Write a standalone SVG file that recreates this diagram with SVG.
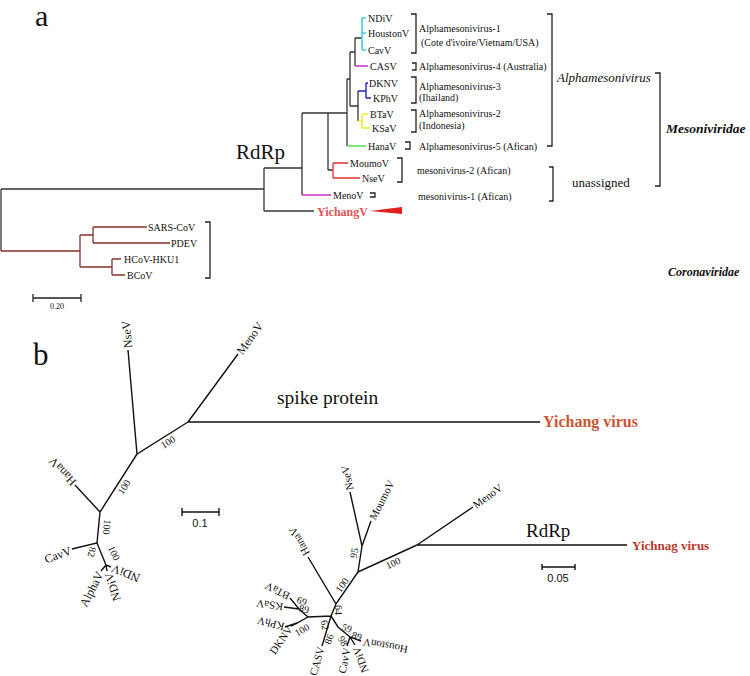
<svg xmlns="http://www.w3.org/2000/svg" width="750" height="676" viewBox="0 0 750 676">
<style>
text{font-family:"Liberation Serif","Times New Roman",serif;fill:#111}
.tl{font-size:10px}
.br{fill:none;stroke:#222;stroke-width:1.3}
.e{fill:none;stroke:#333;stroke-width:1.3}
.b{fill:none;stroke:#111;stroke-width:1.4}
.bs{font-size:10px}
.lt{font-size:12px}
.rt{font-size:11px}
.sc{font-family:"Liberation Sans",Arial,sans-serif;font-size:11px}
</style>
<rect width="750" height="676" fill="#fff"/>

<text x="35" y="26" font-size="30">a</text>
<text x="33" y="365" font-size="31">b</text>
<text x="236" y="159" font-size="21">RdRp</text>
<text x="277" y="404" font-size="19.5">spike protein</text>
<text x="526" y="537" font-size="19">RdRp</text>

<g id="connectors">
<path class="e" d="M1 189H264M1 189V251M264 168V211M264 168H302M302 113V195M302 113H347M328 113V170M328 170H333M347 79V146M347 79H350M350 52V106M350 52H355M355 38V66M355 38H362M350 106H358M358 91V121"/>
<path d="M264 211H314" stroke="#333" stroke-width="1.3"/>
<path d="M362 18V50M362 18H366M362 33H366M362 50H366" fill="none" stroke="#40D0D8" stroke-width="1.6"/>
<path d="M355 66H368M302 195H331" fill="none" stroke="#CC33CC" stroke-width="1.3"/>
<path d="M358 91H366M366 83V98M366 83H368M366 98H371" fill="none" stroke="#2222BB" stroke-width="1.4"/>
<path d="M358 121H362M362 114V128M362 114H368M362 128H370" fill="none" stroke="#EEEE33" stroke-width="1.6"/>
<path d="M347 146H366" fill="none" stroke="#44DD44" stroke-width="1.4"/>
<path d="M333 163V178M333 163H348M333 178H360" fill="none" stroke="#E03030" stroke-width="1.3"/>
<path d="M1 251H80M80 235V267M80 235H93M93 227V243M93 227H147M93 243H170M80 267H112M112 259V275M112 259H121M112 275H125" fill="none" stroke="#8B2E2E" stroke-width="1.3"/>
<polygon points="370,211 402,207 402,214" fill="#E02020"/>
<path class="br" d="M411 14H416V53H411M412 63H416V70H412M411 77H416V103H411M411 110H416V132H411M405 142H410V149H405M397 158H402V182H397M370 193H375V197H370M547 14H552V146H547M655 73H660V186H655M549 167H553V201H549M205 222H210V278H205"/>
<path class="br" d="M33 298H81M33 294V302M81 294V302"/>
<path class="b" d="M182 512H219M182 508V516M219 508V516"/>
<path class="b" d="M542 567H575M542 564V570M575 564V570"/>
<path class="b" d="M188 422H540M188 422L238 354M188 422L137 454L128 350M137 454L100 512L75 485M100 512L97 543L72 549M97 543L106 565L111 567M106 565L107 571M106 565L101 571"/>
<path class="b" d="M417 545H627M417 545L473 507M417 545L358 572L362 546L350 492M362 546L371 521M358 572L336 604L308 557M336 604L331 616L308 617L299 609L290 598M299 609L284 607M308 617L297 623L285 627M297 623L291 626M331 616L322 646M331 616L338 627L350 637L361 641M350 637L355 645M350 637L347 646"/>
</g>

<g id="labels-a">
<text class="tl" x="368" y="21.5">NDiV</text>
<text class="tl" x="368" y="36.5">HoustonV</text>
<text class="tl" x="368" y="53.5">CavV</text>
<text class="tl" x="370" y="69.5">CASV</text>
<text class="tl" x="369" y="86.5">DKNV</text>
<text class="tl" x="373" y="101.5">KPhV</text>
<text class="tl" x="370" y="117.5">BTaV</text>
<text class="tl" x="372" y="131.5">KSaV</text>
<text class="tl" x="368" y="149.5">HanaV</text>
<text class="tl" x="350" y="166.5">MoumoV</text>
<text class="tl" x="362" y="181.5">NseV</text>
<text class="tl" x="333" y="198.5">MenoV</text>
<text x="317" y="216" font-size="12" font-weight="bold" style="fill:#E05555">YichangV</text>
<text class="tl" x="148" y="230.5">SARS-CoV</text>
<text class="tl" x="171" y="246.5">PDEV</text>
<text class="tl" x="124" y="262.5">HCoV-HKU1</text>
<text class="tl" x="127" y="278.5">BCoV</text>
<text x="57" y="309" font-size="8" text-anchor="middle">0.20</text>

<text class="tl" x="419" y="32">Alphamesonivirus-1</text>
<text class="tl" x="421" y="46">(Cote d'ivoire/Vietnam/USA)</text>
<text class="tl" x="419" y="69.5">Alphamesonivirus-4 (Australia)</text>
<text class="tl" x="419" y="89.5">Alphamesonivirus-3</text>
<text class="tl" x="419" y="101">(Ihailand)</text>
<text class="tl" x="419" y="117">Alphamesonivirus-2</text>
<text class="tl" x="419" y="129">(Indonesia)</text>
<text class="tl" x="419" y="149.5">Alphamesonivirus-5 (Afican)</text>
<text class="tl" x="417" y="173.5">mesonivirus-2 (Afican)</text>
<text class="tl" x="418" y="199.5">mesonivirus-1 (Afican)</text>
<text x="557" y="81.5" font-size="13" font-style="italic">Alphamesonivirus</text>
<text x="666" y="132.5" font-size="13.5" font-style="italic" font-weight="bold">Mesoniviridae</text>
<text x="572" y="186.5" font-size="13">unassigned</text>
<text x="668" y="276" font-size="12" font-style="italic" font-weight="bold">Coronaviridae</text>
</g>

<g id="labels-b-spike">
<text x="543" y="427" font-size="16" font-weight="bold" style="fill:#CC5533">Yichang virus</text>
<text class="lt" dy="0.35em" transform="translate(128,348) rotate(-95)">NseV</text>
<text class="lt" dy="0.35em" transform="translate(239,353) rotate(-54)">MenoV</text>
<text class="lt" dy="0.35em" transform="translate(74,484) rotate(-133)">HanaV</text>
<text class="lt" dy="0.35em" text-anchor="end" transform="translate(71,550) rotate(-20)">CavV</text>
<text class="lt" dy="0.35em" text-anchor="end" transform="translate(112,568) rotate(202)">NDiV</text>
<text class="lt" dy="0.35em" text-anchor="end" transform="translate(108,573) rotate(-108)">NDiV</text>
<text class="lt" dy="0.35em" text-anchor="end" transform="translate(100,572) rotate(-63)">AlphaV</text>
<text class="bs" dy="0.35em" text-anchor="middle" transform="translate(168,442) rotate(-32)">100</text>
<text class="bs" dy="0.35em" text-anchor="middle" transform="translate(124,487) rotate(-58)">100</text>
<text class="bs" dy="0.35em" text-anchor="middle" transform="translate(107,527) rotate(95)">100</text>
<text class="bs" dy="0.35em" text-anchor="middle" transform="translate(114,553) rotate(65)">100</text>
<text class="bs" dy="0.35em" text-anchor="middle" transform="translate(92,552) rotate(100)">82</text>
<text class="sc" x="200" y="527" text-anchor="middle">0.1</text>
</g>

<g id="labels-b-rdrp">
<text x="632" y="550" font-size="13" font-weight="bold" style="fill:#B83A2E">Yichnag virus</text>
<text class="rt" dy="0.35em" transform="translate(350,490) rotate(-103)">NseV</text>
<text class="rt" dy="0.35em" transform="translate(372,519) rotate(-63)">MoumoV</text>
<text class="rt" dy="0.35em" transform="translate(474,506) rotate(-36)">MenoV</text>
<text class="rt" dy="0.35em" transform="translate(307,555) rotate(-120)">HanaV</text>
<text class="rt" dy="0.35em" transform="translate(289,597) rotate(-153)">BTaV</text>
<text class="rt" dy="0.35em" transform="translate(283,607) rotate(-172)">KSaV</text>
<text class="rt" dy="0.35em" transform="translate(284,627) rotate(-166)">KPhV</text>
<text class="rt" dy="0.35em" text-anchor="end" transform="translate(290,627) rotate(-55)">DKNV</text>
<text class="rt" dy="0.35em" text-anchor="end" transform="translate(321,647) rotate(-74)" font-size="10.5">CASV</text>
<text class="rt" dy="0.35em" text-anchor="end" transform="translate(347,648) rotate(-78)">CavV</text>
<text class="rt" dy="0.35em" text-anchor="end" transform="translate(356,647) rotate(-110)">NDiV</text>
<text class="rt" dy="0.35em" text-anchor="end" transform="translate(363,642) rotate(190)">HoustonV</text>
<text class="bs" dy="0.35em" text-anchor="middle" transform="translate(393,563) rotate(-25)">100</text>
<text class="bs" dy="0.35em" text-anchor="middle" transform="translate(354,553) rotate(-80)">95</text>
<text class="bs" dy="0.35em" text-anchor="middle" transform="translate(342,585) rotate(-55)">100</text>
<text class="bs" dy="0.35em" text-anchor="middle" transform="translate(338,610) rotate(90)">64</text>
<text class="bs" dy="0.35em" text-anchor="middle" transform="translate(325,625) rotate(80)">62</text>
<text class="bs" dy="0.35em" text-anchor="middle" transform="translate(347,628) rotate(20)">59</text>
<text class="bs" dy="0.35em" text-anchor="middle" transform="translate(329,639) rotate(-70)">86</text>
<text class="bs" dy="0.35em" text-anchor="middle" transform="translate(343,641) rotate(60)">98</text>
<text class="bs" dy="0.35em" text-anchor="middle" transform="translate(357,636) rotate(20)">89</text>
<text class="bs" dy="0.35em" text-anchor="middle" transform="translate(302,601) rotate(20)">69</text>
<text class="bs" dy="0.35em" text-anchor="middle" transform="translate(304,609) rotate(10)">89</text>
<text class="bs" dy="0.35em" text-anchor="middle" transform="translate(302,630) rotate(-30)">100</text>
<text class="sc" x="558" y="582" text-anchor="middle">0.05</text>
</g>
</svg>
